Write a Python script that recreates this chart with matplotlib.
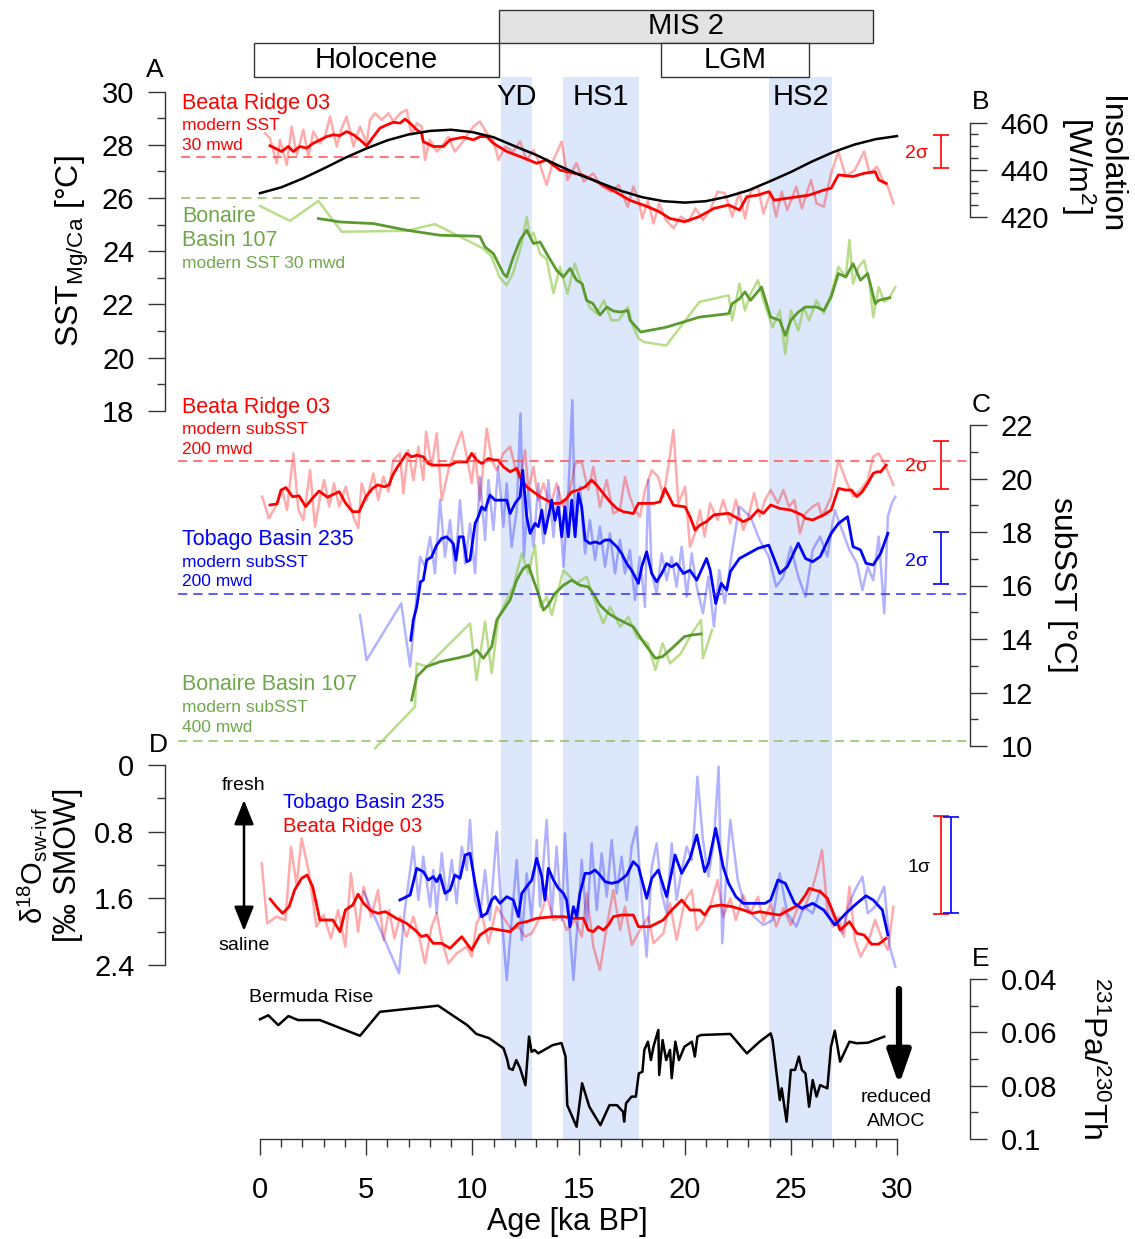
import numpy as np
import matplotlib
matplotlib.use("Agg")
import matplotlib.pyplot as plt
from matplotlib.patches import Rectangle, FancyArrowPatch

plt.rcParams["font.family"] = ["Liberation Sans", "DejaVu Sans"]
plt.rcParams["mathtext.fontset"] = "custom"
plt.rcParams["mathtext.rm"] = "Liberation Sans"
plt.rcParams["mathtext.it"] = "Liberation Sans:italic"
plt.rcParams["mathtext.sf"] = "Liberation Sans"
plt.rcParams["mathtext.default"] = "regular"

# ---------------- DATA (age ka BP, value) ----------------
# time periods at the top
stage_names = ["Holocene", "MIS 2", "LGM"]
stage_start = [-0.28, 11.26, 18.89]
stage_end = [11.26, 28.87, 25.86]
stage_row = [1, 0, 1]          # 0 = upper row, 1 = lower row
stage_fill = ["white", "#e3e3e3", "white"]

# stadial events (blue shading)
event_names = ["YD", "HS1", "HS2"]
event_start = [11.35, 14.25, 23.97]
event_end = [12.81, 17.85, 26.94]

# A: SST Beata Ridge 03
beata_sst_raw = [(0.24, 28.44), (0.47, 28.25), (0.79, 27.31), (0.94, 28.19), (1.26, 27.25), (1.49, 28.69),
                 (1.73, 27.62), (2.04, 28.57), (2.28, 27.56), (2.51, 28.5), (2.83, 28.06), (3.06, 28.31),
                 (3.3, 29.07), (3.61, 27.94), (3.85, 28.63), (4.08, 29.07), (4.4, 27.94), (4.71, 28.69),
                 (5.02, 28.06), (5.18, 28.94), (5.42, 29.19), (5.73, 28.94), (6.05, 29.19), (6.28, 28.88),
                 (6.6, 29.19), (6.91, 29.32), (7.14, 28.38), (7.38, 28.82), (7.62, 28.69), (7.77, 27.43),
                 (8.0, 28.19), (8.32, 27.75), (8.56, 27.94), (8.87, 28.31), (9.18, 27.75), (9.5, 28.06),
                 (9.82, 28.44), (10.05, 28.69), (10.36, 28.88), (10.68, 28.44), (10.99, 28.19), (11.23, 27.43),
                 (11.54, 27.94), (11.93, 27.75), (12.25, 28.13), (12.56, 27.43), (12.88, 27.81), (13.19, 27.25),
                 (13.5, 26.49), (13.82, 27.43), (14.21, 28.13), (14.48, 26.68), (14.9, 27.31), (15.25, 26.62),
                 (15.68, 26.93), (16.1, 26.43), (16.55, 26.24), (16.89, 26.49), (17.32, 25.67), (17.58, 26.43),
                 (17.84, 25.92), (18.0, 25.23), (18.27, 25.92), (18.53, 25.04), (18.79, 25.8), (19.13, 25.17),
                 (19.48, 24.86), (19.82, 25.3), (20.17, 25.11), (20.51, 25.61), (20.86, 25.17), (21.2, 25.55),
                 (21.55, 26.24), (21.89, 26.18), (22.24, 25.3), (22.58, 26.24), (22.84, 25.23), (23.1, 26.24),
                 (23.45, 26.43), (23.71, 25.42), (24.05, 26.24), (24.31, 25.3), (24.57, 26.24), (24.83, 25.55),
                 (25.26, 26.43), (25.52, 25.61), (25.95, 26.68), (26.21, 25.8), (26.55, 25.67), (26.9, 26.93),
                 (27.24, 27.75), (27.59, 26.81), (28.02, 27.06), (28.45, 27.75), (28.71, 26.93), (29.06, 27.18),
                 (29.32, 26.68), (29.57, 26.43), (29.83, 25.8)]
beata_sst_smooth = [(0.47, 27.97), (1.02, 27.75), (1.33, 27.94), (1.57, 27.75), (1.88, 27.94), (2.2, 27.88),
                    (2.51, 28.06), (2.83, 28.19), (3.14, 28.31), (3.45, 28.38), (3.76, 28.35), (4.08, 28.5),
                    (4.4, 28.38), (4.71, 28.19), (5.02, 27.96), (5.34, 28.31), (5.65, 28.63), (5.97, 28.75),
                    (6.28, 28.85), (6.6, 28.82), (6.83, 28.97), (7.06, 28.82), (7.38, 28.57), (7.6, 28.45),
                    (7.69, 28.12), (8.16, 27.94), (8.63, 27.94), (8.95, 28.19), (9.58, 28.29), (10.05, 28.19),
                    (10.36, 28.31), (10.68, 28.31), (10.99, 28.06), (11.62, 27.75), (12.25, 27.56), (13.03, 27.31),
                    (13.5, 27.43), (14.13, 27.05), (15.17, 26.87), (15.85, 26.62), (16.72, 26.24), (17.41, 25.92),
                    (18.27, 25.67), (18.79, 25.49), (19.31, 25.23), (19.99, 25.11), (20.68, 25.3), (21.38, 25.61),
                    (22.07, 25.74), (22.58, 25.55), (22.93, 26.05), (23.45, 26.11), (23.96, 26.24), (24.22, 25.92),
                    (24.82, 25.99), (25.86, 26.11), (26.55, 26.3), (26.9, 26.37), (27.24, 26.87), (27.93, 26.81),
                    (28.45, 26.93), (28.97, 26.99), (29.14, 26.68), (29.49, 26.55)]
beata_sst_modern = 27.55

# A: SST Bonaire Basin 107
bonaire_sst_raw = [(0.0, 25.7), (1.41, 25.14), (2.75, 25.89), (3.85, 24.73), (6.91, 24.77), (8.24, 25.02),
                   (10.05, 24.29), (10.52, 24.1), (10.9, 23.8), (11.3, 23.0), (11.62, 22.72), (11.93, 23.2),
                   (12.3, 24.2), (12.56, 25.3), (12.72, 24.5), (12.88, 24.7), (13.19, 23.9), (13.5, 23.7),
                   (13.82, 22.42), (14.13, 23.41), (14.48, 22.4), (14.82, 23.53), (15.17, 22.72), (15.51, 21.9),
                   (15.86, 21.65), (16.2, 22.15), (16.55, 21.4), (16.89, 21.4), (17.32, 21.9), (17.58, 21.14),
                   (17.84, 20.7), (18.1, 20.58), (19.13, 20.45), (20.69, 22.09), (22.07, 22.34), (22.24, 21.4),
                   (22.58, 22.78), (22.84, 21.77), (23.1, 22.4), (23.45, 22.91), (23.71, 22.15), (24.14, 21.14),
                   (24.48, 21.77), (24.74, 20.14), (25.0, 21.77), (25.35, 21.02), (25.61, 21.9), (25.86, 21.4),
                   (26.21, 22.15), (26.55, 21.65), (26.9, 22.4), (27.24, 23.41), (27.59, 23.03), (27.76, 24.42),
                   (27.93, 22.78), (28.19, 23.41), (28.45, 23.66), (28.71, 22.78), (28.88, 21.52), (29.14, 22.65),
                   (29.4, 22.09), (29.66, 22.28), (29.92, 22.65)]
bonaire_sst_smooth = [(2.75, 25.23), (3.77, 25.1), (5.34, 25.04), (6.91, 24.79), (8.48, 24.6), (10.05, 24.57),
                      (10.36, 24.55), (10.6, 24.16), (10.99, 23.91), (11.23, 23.53), (11.46, 23.16), (11.62, 23.03),
                      (11.93, 23.78), (12.25, 24.42), (12.56, 24.79), (12.88, 24.29), (13.19, 24.35), (13.5, 23.91),
                      (13.97, 23.28), (14.29, 23.03), (14.6, 23.35), (14.91, 22.91), (15.17, 22.78), (15.38, 22.15),
                      (15.68, 22.03), (16.01, 21.6), (16.33, 21.9), (16.64, 21.75), (16.98, 21.71), (17.32, 21.77),
                      (17.43, 21.4), (17.93, 20.96), (19.13, 21.14), (20.69, 21.52), (22.07, 21.65), (22.24, 22.03),
                      (22.58, 22.21), (22.84, 22.47), (23.1, 22.15), (23.62, 22.65), (24.05, 21.52), (24.48, 21.4),
                      (24.74, 20.83), (25.0, 21.4), (25.35, 21.71), (25.69, 21.9), (26.21, 21.9), (26.55, 21.77),
                      (26.9, 22.28), (27.24, 23.16), (27.59, 23.03), (27.93, 23.53), (28.28, 22.91), (28.62, 23.16),
                      (28.97, 22.03), (29.14, 22.15), (29.66, 22.25)]
bonaire_sst_modern = 26.0

# B: insolation [W/m2]
insolation = [(0, 430.0), (1, 432.5), (2, 436.2), (3, 440.5), (4, 445.0), (5, 449.0), (6, 452.5), (7, 455.0),
              (8, 456.5), (9, 457.0), (10, 456.0), (11, 453.8), (12, 450.0), (13, 446.3), (14, 442.0),
              (15, 438.0), (16, 434.5), (17, 431.0), (18, 428.3), (19, 426.6), (20, 426.0), (21, 426.6),
              (22, 428.5), (23, 431.2), (24, 435.0), (25, 439.0), (26, 443.5), (27, 447.5), (28, 450.7),
              (29, 453.0), (30, 454.3)]

# C: subSST
beata_sub_raw = [(0.1, 19.32), (0.42, 18.51), (0.73, 18.95), (1.05, 19.57), (1.27, 18.82), (1.57, 20.94),
                 (1.81, 18.82), (2.04, 18.45), (2.36, 20.32), (2.59, 18.2), (2.83, 19.32), (3.02, 19.94),
                 (3.26, 18.95), (3.49, 19.82), (3.73, 18.95), (4.04, 19.69), (4.4, 18.57), (4.63, 18.14),
                 (4.79, 19.82), (5.02, 19.2), (5.34, 20.19), (5.57, 19.2), (5.81, 20.07), (6.05, 19.51),
                 (6.28, 20.69), (6.59, 20.94), (6.75, 19.44), (6.98, 21.06), (7.22, 19.94), (7.46, 21.19),
                 (7.69, 19.94), (7.82, 21.75), (8.08, 20.44), (8.32, 21.69), (8.56, 19.19), (8.87, 20.31),
                 (9.18, 21.06), (9.5, 21.75), (9.74, 20.81), (9.97, 19.82), (10.13, 20.94), (10.36, 19.19),
                 (10.68, 21.87), (10.91, 20.69), (11.15, 20.31), (11.46, 20.94), (11.78, 21.19), (12.01, 20.44),
                 (12.25, 19.94), (12.48, 21.06), (12.64, 19.57), (12.88, 20.44), (13.11, 19.19), (13.35, 19.82),
                 (13.66, 18.94), (13.97, 19.82), (14.29, 18.94), (14.6, 19.57), (14.84, 20.56), (15.15, 20.62),
                 (15.46, 19.57), (15.7, 20.44), (16.01, 18.94), (16.33, 19.94), (16.64, 18.69), (16.95, 18.82),
                 (17.19, 20.06), (17.42, 19.32), (17.66, 18.82), (17.89, 18.57), (18.13, 19.57), (18.45, 20.31),
                 (18.76, 20.06), (19.0, 19.32), (19.23, 20.44), (19.47, 21.81), (19.7, 19.07), (20.02, 19.69),
                 (20.25, 17.45), (20.49, 17.95), (20.72, 18.82), (20.94, 17.83), (21.2, 19.07), (21.55, 18.45),
                 (21.81, 19.2), (22.15, 18.32), (22.41, 19.2), (22.76, 18.07), (23.0, 18.57), (23.27, 19.45),
                 (23.53, 18.57), (23.79, 19.2), (24.05, 19.57), (24.39, 19.07), (24.65, 19.57), (24.91, 18.95),
                 (25.17, 19.2), (25.43, 17.95), (25.69, 18.7), (26.03, 18.95), (26.29, 19.07), (26.47, 18.57),
                 (26.9, 19.32), (27.24, 20.69), (27.59, 19.94), (27.93, 19.32), (28.28, 19.57), (28.62, 19.94),
                 (28.88, 20.82), (29.14, 20.94), (29.4, 20.57), (29.83, 19.76)]
beata_sub_smooth = [(0.47, 19.01), (0.8, 19.05), (0.99, 19.57), (1.22, 19.66), (1.53, 19.32), (1.84, 19.35),
                    (2.15, 18.95), (2.47, 19.26), (2.78, 19.53), (3.18, 19.3), (3.49, 19.42), (3.73, 19.51),
                    (4.04, 19.07), (4.36, 18.76), (4.67, 18.76), (4.99, 19.32), (5.3, 19.63), (5.54, 19.76),
                    (5.85, 19.69), (6.08, 19.76), (6.25, 20.13), (6.48, 20.44), (6.59, 20.56), (6.9, 20.94),
                    (7.14, 20.81), (7.38, 20.87), (7.69, 20.81), (7.93, 20.56), (8.16, 20.5), (8.56, 20.5),
                    (8.95, 20.5), (9.26, 20.62), (9.74, 20.62), (9.97, 20.94), (10.2, 20.69), (10.44, 20.56),
                    (10.76, 20.75), (11.0, 20.69), (11.22, 20.69), (11.46, 20.44), (11.78, 20.25), (12.09, 20.38),
                    (12.33, 19.94), (12.56, 19.69), (12.88, 19.5), (13.19, 19.32), (13.5, 19.19), (13.82, 19.07),
                    (14.13, 19.07), (14.44, 19.25), (14.68, 19.5), (14.99, 19.57), (15.31, 19.69), (15.62, 19.94),
                    (15.86, 19.75), (16.17, 19.44), (16.48, 19.13), (16.8, 18.88), (17.11, 18.76), (17.58, 18.69),
                    (17.82, 19.07), (18.53, 19.07), (18.84, 19.13), (19.07, 19.63), (19.23, 19.38), (19.47, 19.0),
                    (20.02, 18.94), (20.25, 18.57), (20.49, 18.07), (20.72, 18.26), (21.03, 18.39), (21.38, 18.64),
                    (22.07, 18.7), (22.76, 18.39), (23.1, 18.51), (23.45, 18.82), (23.71, 18.7), (24.05, 19.01),
                    (24.48, 18.88), (25.0, 18.82), (25.52, 18.64), (25.69, 18.51), (26.03, 18.45), (26.55, 18.64),
                    (26.9, 18.82), (27.24, 19.63), (27.59, 19.57), (27.85, 19.57), (28.11, 19.32), (28.37, 19.51),
                    (28.62, 19.82), (28.88, 20.19), (29.06, 20.25), (29.23, 20.25), (29.49, 20.5)]
beata_sub_modern = 20.65

tobago_sub_raw = [(4.71, 14.9), (5.02, 13.21), (6.65, 15.33), (7.07, 12.97), (7.3, 14.96), (7.54, 17.07),
                  (7.77, 16.7), (8.01, 17.82), (8.24, 16.45), (8.48, 19.19), (8.71, 17.07), (8.95, 18.44),
                  (9.18, 16.45), (9.42, 19.19), (9.66, 16.82), (9.89, 18.32), (10.13, 16.45), (10.36, 20.06),
                  (10.6, 17.7), (10.76, 19.94), (10.99, 18.07), (11.22, 20.44), (11.46, 18.2), (11.62, 19.82),
                  (11.85, 17.45), (12.09, 18.82), (12.27, 22.43), (12.43, 17.07), (12.64, 19.57), (12.88, 17.45),
                  (13.11, 19.82), (13.35, 17.57), (13.58, 19.94), (13.82, 17.82), (14.05, 19.69), (14.29, 16.7),
                  (14.52, 19.44), (14.71, 22.93), (14.84, 17.95), (15.07, 19.69), (15.31, 17.2), (15.54, 18.44),
                  (15.78, 16.95), (16.01, 18.2), (16.25, 16.7), (16.48, 17.95), (16.72, 16.45), (16.95, 17.7),
                  (17.19, 16.45), (17.42, 17.32), (17.66, 15.46), (17.89, 17.07), (18.13, 15.2), (18.29, 19.94),
                  (18.45, 16.45), (18.68, 15.7), (18.92, 17.2), (19.15, 16.2), (19.39, 17.07), (19.62, 15.95),
                  (19.86, 17.45), (20.1, 15.58), (20.33, 17.2), (20.57, 15.95), (20.86, 14.96), (21.12, 16.33),
                  (21.38, 14.46), (21.63, 16.58), (21.89, 15.33), (22.24, 17.33), (22.58, 18.95), (23.1, 18.57),
                  (23.53, 17.7), (23.96, 17.08), (24.31, 15.96), (24.65, 16.33), (25.0, 17.45), (25.35, 16.33),
                  (25.69, 15.58), (26.03, 17.33), (26.38, 17.83), (26.72, 17.08), (27.07, 18.82), (27.41, 18.07),
                  (27.76, 17.33), (28.11, 16.83), (28.37, 15.83), (28.62, 16.7), (28.88, 16.2), (29.14, 17.83),
                  (29.4, 14.96), (29.57, 18.57), (29.75, 19.07), (29.92, 19.32)]
tobago_sub_smooth = [(7.1, 13.96), (7.22, 14.71), (7.38, 15.2), (7.56, 16.14), (7.69, 16.2), (7.85, 16.95),
                     (8.08, 17.07), (8.32, 17.51), (8.56, 17.76), (8.79, 17.82), (8.95, 17.7), (9.1, 17.57),
                     (9.23, 16.95), (9.38, 17.82), (9.57, 17.82), (9.74, 16.89), (9.89, 16.95), (10.13, 18.32),
                     (10.28, 18.57), (10.44, 18.94), (10.6, 18.82), (10.83, 19.38), (11.07, 19.19), (11.3, 19.19),
                     (11.62, 19.19), (11.78, 18.69), (12.01, 19.07), (12.25, 19.32), (12.37, 20.31), (12.48, 19.32),
                     (12.56, 18.57), (12.72, 17.95), (12.95, 18.32), (13.11, 18.2), (13.27, 18.82), (13.42, 17.95),
                     (13.58, 18.57), (13.74, 19.19), (13.89, 18.44), (14.05, 18.94), (14.21, 17.82), (14.36, 18.94),
                     (14.52, 17.82), (14.68, 19.19), (14.84, 17.82), (14.99, 19.44), (15.15, 18.94), (15.31, 17.7),
                     (15.54, 17.57), (15.78, 17.63), (16.01, 17.57), (16.25, 17.7), (16.48, 17.7), (16.8, 17.45),
                     (17.03, 17.2), (17.27, 16.82), (17.5, 16.57), (17.66, 16.33), (17.82, 16.08), (17.98, 16.7),
                     (18.21, 17.26), (18.45, 16.45), (18.68, 16.14), (18.92, 16.45), (19.15, 16.82), (19.39, 16.7),
                     (19.62, 16.82), (19.94, 16.45), (20.25, 16.57), (20.57, 16.2), (21.03, 17.01), (21.2, 16.58),
                     (21.46, 15.33), (21.72, 16.08), (21.98, 15.83), (22.15, 16.52), (22.58, 17.01), (23.45, 17.39),
                     (23.96, 17.51), (24.48, 16.45), (24.83, 16.7), (25.35, 17.58), (25.69, 17.01), (26.03, 16.89),
                     (26.38, 17.08), (26.9, 17.95), (27.24, 18.32), (27.67, 18.57), (27.93, 17.45), (28.28, 17.33),
                     (28.54, 16.83), (28.88, 16.77), (29.23, 17.2), (29.57, 17.95)]
tobago_sub_modern = 15.7

bonaire_sub_raw = [(5.42, 9.91), (7.3, 11.47), (7.38, 13.09), (7.85, 12.97), (9.89, 14.58), (10.2, 12.47),
                   (10.6, 14.65), (10.91, 12.72), (11.23, 14.83), (11.62, 15.46), (11.93, 15.96), (12.33, 17.2),
                   (12.64, 16.45), (12.95, 17.51), (13.19, 15.2), (13.5, 15.58), (13.74, 14.9), (13.97, 15.6),
                   (14.29, 16.57), (14.6, 16.33), (14.91, 16.08), (15.38, 16.33), (15.86, 15.2), (16.17, 14.58),
                   (16.49, 15.21), (16.96, 14.46), (17.35, 14.83), (17.74, 14.09), (17.84, 14.02), (18.27, 13.84),
                   (18.62, 12.84), (18.96, 13.84), (19.31, 13.09), (19.82, 13.46), (20.34, 14.21), (20.77, 14.71),
                   (20.86, 13.28), (21.29, 14.34)]
bonaire_sub_smooth = [(7.14, 11.72), (7.38, 12.59), (7.85, 12.97), (8.48, 13.15), (9.26, 13.28), (9.89, 13.4),
                      (10.2, 13.59), (10.52, 13.28), (10.91, 13.71), (11.15, 14.71), (11.46, 15.08), (11.78, 15.46),
                      (12.09, 16.2), (12.4, 16.64), (12.64, 16.76), (12.88, 16.2), (13.11, 15.7), (13.35, 15.08),
                      (13.58, 15.27), (13.89, 15.7), (14.29, 16.01), (14.68, 16.2), (15.07, 16.01), (15.46, 15.95),
                      (15.7, 15.7), (16.01, 15.27), (16.41, 14.96), (16.8, 14.77), (17.58, 14.46), (18.1, 13.84),
                      (18.62, 13.28), (18.96, 13.34), (19.48, 13.71), (19.99, 14.09), (20.34, 14.15), (20.77, 14.19)]
bonaire_sub_modern = 10.2

# D: d18O seawater (ice volume free)
beata_d18o_raw = [(0.08, 1.18), (0.34, 1.9), (0.77, 1.82), (1.2, 1.86), (1.46, 0.98), (1.72, 1.44), (1.96, 0.88),
                  (2.31, 1.3), (2.66, 1.94), (3.0, 1.8), (3.34, 2.08), (3.68, 1.74), (4.02, 2.18), (4.28, 1.3),
                  (4.62, 2.0), (4.88, 1.46), (5.23, 1.82), (5.56, 1.5), (5.82, 2.1), (6.08, 1.74), (6.33, 2.08),
                  (6.59, 1.82), (6.9, 2.06), (7.22, 1.82), (7.53, 2.1), (7.77, 2.38), (8.08, 1.94), (8.32, 1.78),
                  (8.56, 2.1), (8.87, 2.38), (9.26, 2.26), (9.74, 2.18), (9.97, 2.3), (10.2, 1.9), (10.44, 1.78),
                  (10.76, 2.14), (11.15, 1.7), (11.54, 1.86), (11.85, 1.98), (12.17, 1.94), (12.48, 2.06),
                  (12.8, 2.02), (13.19, 1.82), (13.5, 1.56), (13.82, 1.86), (14.21, 1.82), (14.44, 1.98),
                  (14.84, 1.86), (15.15, 2.06), (15.39, 1.54), (15.7, 2.18), (16.01, 2.46), (16.33, 1.94),
                  (16.64, 1.5), (16.96, 1.98), (17.19, 1.7), (17.51, 2.16), (17.9, 1.98), (18.29, 1.82),
                  (18.53, 2.14), (19.0, 2.02), (19.31, 1.66), (19.62, 2.1), (20.02, 1.62), (20.33, 1.5),
                  (20.57, 1.98), (20.86, 1.88), (21.2, 1.7), (21.55, 1.38), (21.81, 1.82), (22.15, 1.6),
                  (22.41, 1.86), (22.76, 1.56), (23.1, 1.78), (23.45, 1.58), (23.71, 1.88), (24.05, 1.66),
                  (24.31, 1.94), (24.65, 1.72), (25.0, 1.92), (25.35, 1.7), (25.61, 1.74), (26.03, 1.46),
                  (26.21, 1.3), (26.47, 1.02), (26.72, 1.74), (26.98, 1.94), (27.24, 1.82), (27.5, 2.06),
                  (27.76, 1.46), (28.02, 2.1), (28.28, 2.3), (28.62, 2.14), (28.97, 1.86), (29.31, 2.1),
                  (29.57, 2.22), (29.83, 1.7)]
beata_d18o_smooth = [(0.48, 1.61), (0.77, 1.7), (1.07, 1.78), (1.37, 1.7), (1.63, 1.5), (1.96, 1.36), (2.22, 1.32),
                     (2.48, 1.46), (2.82, 1.86), (3.13, 1.86), (3.43, 1.86), (3.77, 2.0), (4.02, 1.74), (4.37, 1.68),
                     (4.62, 1.55), (4.88, 1.66), (5.23, 1.75), (5.56, 1.78), (5.9, 1.76), (6.17, 1.8), (6.42, 1.84),
                     (6.59, 1.86), (6.9, 1.9), (7.3, 1.98), (7.61, 2.06), (7.85, 2.04), (8.16, 2.14), (8.56, 2.14),
                     (8.95, 2.2), (9.5, 2.06), (9.97, 2.22), (10.36, 2.04), (10.83, 1.96), (11.3, 1.98),
                     (11.78, 2.0), (12.17, 1.9), (12.56, 1.88), (13.03, 1.84), (13.82, 1.82), (14.29, 1.82),
                     (14.76, 1.84), (15.23, 1.84), (15.46, 1.98), (15.7, 2.0), (15.93, 1.94), (16.17, 1.98),
                     (16.41, 1.92), (16.64, 1.82), (17.03, 1.8), (17.58, 1.8), (17.82, 1.94), (18.37, 1.94),
                     (18.99, 1.86), (19.39, 1.74), (19.86, 1.62), (20.25, 1.74), (20.72, 1.74), (20.94, 1.8),
                     (21.2, 1.7), (21.72, 1.68), (22.24, 1.7), (22.76, 1.74), (23.19, 1.78), (23.53, 1.76),
                     (23.96, 1.78), (24.48, 1.8), (24.91, 1.74), (25.35, 1.68), (25.69, 1.56), (25.86, 1.48),
                     (26.38, 1.52), (26.72, 1.6), (27.07, 1.82), (27.32, 1.98), (27.76, 1.88), (28.11, 2.02),
                     (28.45, 2.04), (28.8, 2.15), (29.14, 2.15), (29.49, 2.08)]
tobago_d18o_raw = [(4.88, 1.52), (5.74, 2.02), (6.55, 2.5), (6.8, 1.78), (7.22, 0.98), (7.46, 1.62), (7.69, 1.1),
                   (8.01, 1.7), (8.16, 1.26), (8.32, 1.78), (8.56, 1.06), (8.79, 1.62), (9.03, 1.14), (9.26, 1.66),
                   (9.5, 0.98), (9.74, 1.26), (9.89, 0.66), (10.13, 1.62), (10.36, 1.82), (10.6, 1.26),
                   (10.83, 1.86), (11.15, 0.8), (11.38, 1.82), (11.62, 2.58), (11.93, 1.62), (12.09, 1.14),
                   (12.33, 2.1), (12.56, 1.3), (12.8, 1.86), (13.03, 0.9), (13.19, 1.7), (13.5, 0.66),
                   (13.74, 1.82), (13.97, 0.98), (14.21, 1.86), (14.36, 0.82), (14.6, 2.02), (14.76, 2.58),
                   (15.0, 1.74), (15.15, 1.14), (15.39, 1.94), (15.62, 0.94), (15.86, 1.74), (16.09, 1.06),
                   (16.33, 1.58), (16.56, 0.9), (16.8, 1.54), (17.03, 1.1), (17.27, 1.62), (17.5, 0.98),
                   (17.74, 0.74), (17.98, 1.62), (18.21, 2.3), (18.45, 1.22), (18.68, 0.94), (18.92, 1.54),
                   (19.15, 1.78), (19.39, 0.94), (19.62, 1.62), (19.86, 1.26), (20.1, 0.98), (20.33, 1.14),
                   (20.49, 0.62), (20.6, 0.14), (20.86, 0.9), (21.12, 1.34), (21.38, 0.9), (21.6, 0.02),
                   (21.77, 2.14), (21.98, 1.22), (22.15, 0.66), (22.5, 1.38), (22.84, 1.7), (23.27, 1.82),
                   (23.71, 1.92), (24.14, 1.86), (24.48, 1.3), (24.83, 1.78), (25.26, 1.94), (25.61, 1.7),
                   (26.03, 1.78), (26.38, 1.5), (26.72, 1.62), (27.07, 1.86), (27.41, 2.02), (27.76, 1.66),
                   (28.02, 1.5), (28.37, 1.34), (28.62, 1.78), (28.97, 1.7), (29.4, 1.46), (29.66, 2.18),
                   (29.92, 2.42)]
tobago_d18o_smooth = [(6.59, 1.62), (7.07, 1.56), (7.38, 1.24), (7.69, 1.28), (7.93, 1.38), (8.16, 1.34),
                      (8.32, 1.4), (8.48, 1.32), (8.71, 1.54), (8.95, 1.5), (9.18, 1.32), (9.42, 1.36),
                      (9.66, 1.08), (9.89, 1.06), (10.13, 1.42), (10.44, 1.82), (10.68, 1.78), (10.91, 1.62),
                      (11.07, 1.58), (11.3, 1.66), (11.62, 1.58), (11.93, 1.62), (12.17, 1.82), (12.33, 1.54),
                      (12.56, 1.46), (12.8, 1.38), (13.03, 1.12), (13.27, 1.34), (13.42, 1.62), (13.58, 1.24),
                      (13.82, 1.38), (14.05, 1.48), (14.29, 1.54), (14.44, 1.62), (14.6, 1.94), (14.76, 1.7),
                      (14.91, 1.82), (15.07, 1.54), (15.31, 1.3), (15.54, 1.3), (15.78, 1.26), (16.01, 1.32),
                      (16.25, 1.4), (16.56, 1.42), (16.88, 1.4), (17.27, 1.32), (17.58, 1.16), (17.82, 1.22),
                      (18.21, 1.6), (18.45, 1.36), (18.76, 1.26), (19.15, 1.58), (19.55, 1.08), (19.86, 1.3),
                      (20.25, 1.12), (20.57, 0.84), (20.94, 1.28), (21.12, 1.18), (21.46, 0.76), (21.81, 1.22),
                      (22.07, 1.42), (22.41, 1.58), (22.76, 1.66), (23.79, 1.66), (24.05, 1.62), (24.39, 1.38),
                      (24.74, 1.42), (25.17, 1.66), (25.52, 1.72), (26.03, 1.66), (26.55, 1.74), (27.07, 1.92),
                      (27.59, 1.78), (28.11, 1.66), (28.54, 1.57), (28.88, 1.62), (29.31, 1.74), (29.57, 2.04)]

# E: Bermuda Rise 231Pa/230Th
bermuda_pa_th = [(0.0, 0.0551), (0.39, 0.0536), (0.86, 0.0573), (1.34, 0.0539), (1.79, 0.0554), (2.82, 0.0554),
                 (4.71, 0.0613), (5.65, 0.0523), (8.39, 0.0500), (9.76, 0.0573), (10.19, 0.0606), (10.79, 0.0622),
                 (11.47, 0.066), (11.64, 0.0701), (11.73, 0.0735), (11.9, 0.0741), (12.07, 0.0704),
                 (12.25, 0.0735), (12.5, 0.0798), (12.67, 0.0616), (12.79, 0.0673), (12.93, 0.0666),
                 (13.1, 0.0679), (13.78, 0.0648), (14.2, 0.0640), (14.39, 0.0691), (14.47, 0.0873),
                 (14.91, 0.0954), (15.17, 0.0791), (15.51, 0.0879), (16.03, 0.0948), (16.46, 0.0873),
                 (16.81, 0.0873), (17.1, 0.0898), (17.15, 0.0935), (17.24, 0.0866), (17.5, 0.0841),
                 (17.7, 0.0841), (17.84, 0.0754), (18.01, 0.0748), (18.1, 0.0666), (18.27, 0.0635),
                 (18.41, 0.0704), (18.53, 0.0654), (18.76, 0.0591), (18.8, 0.076), (18.96, 0.0629),
                 (19.13, 0.0704), (19.31, 0.0666), (19.39, 0.0772), (19.56, 0.0635), (19.73, 0.0704),
                 (19.99, 0.0654), (20.34, 0.0635), (20.48, 0.0691), (20.6, 0.0616), (20.77, 0.061),
                 (22.15, 0.0606), (22.93, 0.0679), (23.53, 0.0635), (24.05, 0.0604), (24.14, 0.0629),
                 (24.48, 0.0854), (24.57, 0.081), (24.8, 0.0935), (25.0, 0.0741), (25.2, 0.0741),
                 (25.38, 0.0691), (25.52, 0.0741), (25.69, 0.0754), (25.86, 0.0879), (26.03, 0.0779),
                 (26.21, 0.0841), (26.38, 0.0798), (26.72, 0.081), (26.89, 0.0654), (27.07, 0.0594),
                 (27.32, 0.071), (27.76, 0.0635), (28.11, 0.0641), (28.63, 0.0639), (29.4, 0.0616)]

# error bars (centre, half range)
sst_2sigma = (27.76, 0.62)
beata_sub_2sigma = (20.5, 0.9)
tobago_sub_2sigma = (17.02, 0.98)
beata_d18o_1sigma = (1.2, 0.59)
tobago_d18o_1sigma = (1.2, 0.575)

# ---------------- LAYOUT (pixels of the 1135 x 1239 picture) ----------------
W, H = 1135, 1239
PX_L, PX_R = 165, 970          # left / right spines
PX_TOP, PX_BOT = 0, 1139       # bottom = age axis
AGE0_PX, AGE30_PX = 260, 897
KA = (AGE30_PX - AGE0_PX) / 30.0
XLIM = ((PX_L - AGE0_PX) / KA, (PX_R - AGE0_PX) / KA)
RECT = [PX_L / W, 1 - PX_BOT / H, (PX_R - PX_L) / W, (PX_BOT - PX_TOP) / H]

RED, BLUE, GREEN = "#ff0000", "#0000ff", "#5b9a2f"
RED_RAW = (1.0, 0.0, 0.0, 0.33)
BLUE_RAW = (0.0, 0.0, 1.0, 0.3)
GREEN_RAW = (0.55, 0.78, 0.25, 0.6)
GREEN_TXT = "#6ea84a"
SHADE = "#dce7fb"
AX_COL = "#333333"
TICK_SIZE = 21


def fpos(px, py):
    return px / W, 1 - py / H


def frac(py):
    return (PX_BOT - py) / (PX_BOT - PX_TOP)


def ylims(v1, p1, v2, p2):
    k = (v2 - v1) / (p2 - p1)
    return v1 + (PX_BOT - p1) * k, v1 + (PX_TOP - p1) * k


def xy(series):
    a = np.array(series, dtype=float)
    return a[:, 0], a[:, 1]


def age_at(px):
    return (px - AGE0_PX) / KA


fig = plt.figure(figsize=(W / 100, H / 100), dpi=100)

# base axes: shading, period boxes, age axis
ax0 = fig.add_axes(RECT, facecolor="none")
ax0.set_xlim(*XLIM)
ax0.set_ylim(0, 1)
for s in ["top", "left", "right"]:
    ax0.spines[s].set_visible(False)
ax0.spines["bottom"].set_bounds(0, 30)
ax0.spines["bottom"].set_color(AX_COL)
ax0.spines["bottom"].set_linewidth(1.0)
ax0.set_yticks([])
ax0.set_xticks(np.arange(0, 31, 5))
ax0.set_xticks(np.arange(0, 31, 1), minor=True)
ax0.tick_params(axis="x", which="major", length=11.5, width=1.0, direction="out",
                labelsize=TICK_SIZE, pad=15, color=AX_COL)
ax0.tick_params(axis="x", which="minor", length=6, width=1.0, direction="out", color=AX_COL)
ax0.set_xlabel("Age [ka BP]", fontsize=22, labelpad=2)

for name, a0, a1 in zip(event_names, event_start, event_end):
    ax0.axvspan(a0, a1, ymin=0, ymax=frac(77), color=SHADE, lw=0, zorder=0)
    fig.text(*fpos((AGE0_PX + KA * (a0 + a1) / 2), 97), name, fontsize=21,
             ha="center", va="center")

row_px = [(10, 43), (43, 77)]
for name, a0, a1, r, fc in zip(stage_names, stage_start, stage_end, stage_row, stage_fill):
    top, bot = row_px[r]
    ax0.add_patch(Rectangle((a0, frac(bot)), a1 - a0, frac(top) - frac(bot), facecolor=fc,
                            edgecolor=AX_COL, lw=1.0, clip_on=False, zorder=3))
    ax0.text((a0 + a1) / 2, (frac(top) + frac(bot)) / 2, name, fontsize=21,
             ha="center", va="center", zorder=4)


def panel_axes(side, v1, p1, v2, p2, bounds, majors, minors, labels=None):
    ax = fig.add_axes(RECT, facecolor="none")
    ax.set_xlim(*XLIM)
    ax.set_ylim(*ylims(v1, p1, v2, p2))
    for s in ["top", "bottom", "left", "right"]:
        ax.spines[s].set_visible(False)
    ax.spines[side].set_visible(True)
    ax.spines[side].set_bounds(*bounds)
    ax.spines[side].set_color(AX_COL)
    ax.spines[side].set_linewidth(1.0)
    ax.yaxis.set_ticks_position(side)
    ax.set_yticks(majors)
    ax.set_yticks(minors, minor=True)
    if labels is not None:
        ax.set_yticklabels(labels)
    ax.set_xticks([])
    ax.tick_params(axis="y", which="major", length=12, width=1.0, direction="out",
                   labelsize=TICK_SIZE, pad=10, color=AX_COL)
    ax.tick_params(axis="y", which="minor", length=6, width=1.0, direction="out", color=AX_COL)
    return ax


# ---- A: SST ----
axA = panel_axes("left", 30, 91.7, 18, 410.7, (18, 30), np.arange(18, 31, 2), np.arange(18, 31, 1))
x, y = xy(beata_sst_raw)
axA.plot(x, y, color=RED_RAW, lw=1.8)
x, y = xy(bonaire_sst_raw)
axA.plot(x, y, color=GREEN_RAW, lw=1.8)
x, y = xy(beata_sst_smooth)
axA.plot(x, y, color=RED, lw=2.0)
x, y = xy(bonaire_sst_smooth)
axA.plot(x, y, color=GREEN, lw=2.0)
axA.hlines(beata_sst_modern, age_at(181), age_at(422), colors="#ff5050", lw=1.1, linestyles=(0, (6, 4)))
axA.hlines(bonaire_sst_modern, age_at(181), age_at(422), colors="#8fc064", lw=1.1, linestyles=(0, (6, 4)))
axA.errorbar([age_at(941)], [sst_2sigma[0]], yerr=[sst_2sigma[1]], color=RED, lw=1.2,
             capsize=6, capthick=1.2)

# ---- B: insolation ----
axB = panel_axes("right", 460, 122.7, 420, 216.7, (420, 460), [420, 440, 460], np.arange(420, 461, 5))
x, y = xy(insolation)
axB.plot(x, y, color="black", lw=1.8)

# ---- C: subSST ----
axC = panel_axes("right", 22, 425, 10, 746, (10, 22), np.arange(10, 23, 2), np.arange(10, 23, 1))
for series, col in [(beata_sub_raw, RED_RAW), (tobago_sub_raw, BLUE_RAW), (bonaire_sub_raw, GREEN_RAW)]:
    x, y = xy(series)
    axC.plot(x, y, color=col, lw=1.8)
for series, col in [(bonaire_sub_smooth, GREEN), (beata_sub_smooth, RED), (tobago_sub_smooth, BLUE)]:
    x, y = xy(series)
    axC.plot(x, y, color=col, lw=2.0)
for val, col in [(beata_sub_modern, "#ff5050"), (tobago_sub_modern, "#3030ff"), (bonaire_sub_modern, "#8fc064")]:
    axC.hlines(val, age_at(178), XLIM[1], colors=col, lw=1.1, linestyles=(0, (6, 4)))
axC.errorbar([age_at(941)], [beata_sub_2sigma[0]], yerr=[beata_sub_2sigma[1]], color=RED, lw=1.2,
             capsize=6, capthick=1.2)
axC.errorbar([age_at(941)], [tobago_sub_2sigma[0]], yerr=[tobago_sub_2sigma[1]], color=BLUE, lw=1.2,
             capsize=6, capthick=1.2)

# ---- D: d18Osw-ivf ----
axD = panel_axes("left", 0, 765, 2.4, 965, (0, 2.4), [0, 0.8, 1.6, 2.4], np.arange(0, 2.41, 0.4),
                 labels=["0", "0.8", "1.6", "2.4"])
x, y = xy(beata_d18o_raw)
axD.plot(x, y, color=RED_RAW, lw=1.8)
x, y = xy(tobago_d18o_raw)
axD.plot(x, y, color=BLUE_RAW, lw=1.8)
x, y = xy(beata_d18o_smooth)
axD.plot(x, y, color=RED, lw=2.0)
x, y = xy(tobago_d18o_smooth)
axD.plot(x, y, color=BLUE, lw=2.0)
axD.errorbar([age_at(941)], [beata_d18o_1sigma[0]], yerr=[beata_d18o_1sigma[1]], color=RED, lw=1.2,
             capsize=6, capthick=1.2)
axD.errorbar([age_at(951)], [tobago_d18o_1sigma[0]], yerr=[tobago_d18o_1sigma[1]], color=BLUE, lw=1.2,
             capsize=6, capthick=1.2)

# ---- E: Pa/Th ----
axE = panel_axes("right", 0.04, 979, 0.1, 1139, (0.04, 0.1), [0.04, 0.06, 0.08, 0.1],
                 np.arange(0.04, 0.1001, 0.01), labels=["0.04", "0.06", "0.08", "0.1"])
x, y = xy(bermuda_pa_th)
axE.plot(x, y, color="black", lw=1.8)

# ---------------- TEXT ----------------
def label(px, py, s, size, color="black", ha="left", **kw):
    fig.text(*fpos(px, py), s, fontsize=size, color=color, ha=ha, va="center", **kw)


for px, py, s in [(155, 70, "A"), (981, 102, "B"), (981, 405, "C"), (158, 745, "D"), (981, 959, "E")]:
    label(px, py, s, 19, ha="center")

label(182, 103, "Beata Ridge 03", 15.5, RED)
label(182, 125, "modern SST", 12.5, RED)
label(182, 145, "30 mwd", 12.5, RED)
label(182, 216, "Bonaire", 15.5, GREEN_TXT)
label(182, 240, "Basin 107", 15.5, GREEN_TXT)
label(182, 263, "modern SST 30 mwd", 12.5, GREEN_TXT)

label(182, 407, "Beata Ridge 03", 15.5, RED)
label(182, 429, "modern subSST", 12.5, RED)
label(182, 449, "200 mwd", 12.5, RED)
label(182, 540, "Tobago Basin 235", 15.5, BLUE)
label(182, 562, "modern subSST", 12.5, BLUE)
label(182, 582, "200 mwd", 12.5, BLUE)
label(182, 685, "Bonaire Basin 107", 15.5, GREEN_TXT)
label(182, 707, "modern subSST", 12.5, GREEN_TXT)
label(182, 728, "400 mwd", 12.5, GREEN_TXT)

label(283, 802, "Tobago Basin 235", 14.5, BLUE)
label(283, 827, "Beata Ridge 03", 14.5, RED)
label(244, 786, "fresh", 14, ha="center")
label(244, 945, "saline", 14, ha="center")
label(249, 997, "Bermuda Rise", 14)
label(896, 1097, "reduced", 14, ha="center")
label(896, 1121, "AMOC", 14, ha="center")

label(917, 153, "2σ", 14, RED, ha="center")
label(917, 467, "2σ", 14, RED, ha="center")
label(917, 561, "2σ", 14, BLUE, ha="center")
label(919, 867, "1σ", 14, ha="center")

label(72, 251, "SST$_{Mg/Ca}$ [°C]", 23, ha="center", rotation=90)
label(32, 866, r"$\delta^{18}$O$_{sw‐ivf}$", 21, ha="center", rotation=90)
label(68, 865, "[‰ SMOW]", 22, ha="center", rotation=90)
label(1110, 165, "Insolation", 23, ha="center", rotation=270)
label(1078, 165, "[W/m$^2$]", 23, ha="center", rotation=270)
label(1062, 585, "subSST [°C]", 23, ha="center", rotation=270)
label(1092, 1058, "$^{231}$Pa/$^{230}$Th", 23, ha="center", rotation=270)

# arrows
fig.add_artist(FancyArrowPatch(
    fpos(244, 931), fpos(244, 800), transform=fig.transFigure,
    arrowstyle="<|-|>,head_length=0.75,head_width=0.3", mutation_scale=20, lw=1.8,
    color="black", shrinkA=0, shrinkB=0))
fig.add_artist(FancyArrowPatch(
    fpos(899, 989), fpos(899, 1085), transform=fig.transFigure,
    arrowstyle="-|>,head_length=1.0,head_width=0.35", mutation_scale=20, lw=4.5,
    color="black", shrinkA=0, shrinkB=0))

fig.savefig("out.png", dpi=100)
